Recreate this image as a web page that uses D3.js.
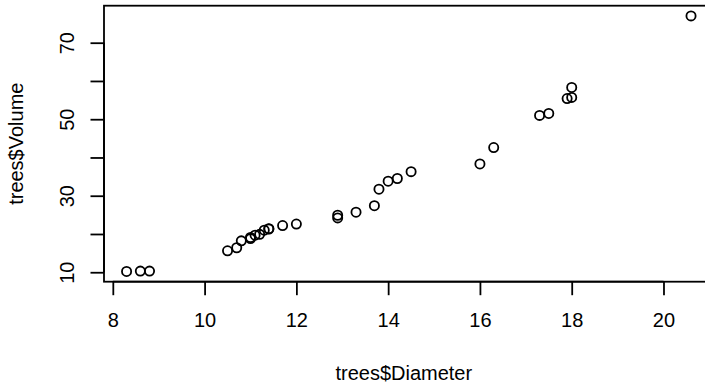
<!DOCTYPE html>
<html>
<head>
<meta charset="utf-8">
<script src="https://cdn.jsdelivr.net/npm/d3@7"></script>
<style>
  html, body { margin: 0; padding: 0; background: #fff; }
  svg { display: block; }
  text { font-family: "Liberation Sans", Arial, Helvetica, sans-serif; fill: #000; }
</style>
</head>
<body>
<svg id="chart" width="705" height="384"></svg>
<script>
// Data (trees: Diameter vs Volume)
const diameter = [8.3, 8.6, 8.8, 10.5, 10.7, 10.8, 11.0, 11.0, 11.1, 11.2, 11.3, 11.4, 11.4, 11.7, 12.0, 12.9, 12.9, 13.3, 13.7, 13.8, 14.0, 14.2, 14.5, 16.0, 16.3, 17.3, 17.5, 17.9, 18.0, 18.0, 20.6];
const volume   = [10.2, 10.3, 10.3, 15.6, 16.4, 18.2, 18.8, 19.1, 19.7, 19.9, 21.0, 21.3, 21.4, 22.2, 22.6, 24.2, 24.9, 25.7, 27.4, 31.7, 33.8, 34.5, 36.3, 38.3, 42.6, 51.0, 51.5, 55.4, 55.7, 58.3, 77.0];
const xTicks = [8, 10, 12, 14, 16, 18, 20];
const yTicks = [10, 20, 30, 40, 50, 60, 70];
const yTickLabels = [10, 30, 50, 70];
const xLabel = "trees$Diameter";
const yLabel = "trees$Volume";

const svg = d3.select("#chart");
const fontSize = 20;

// R-style 4% expansion of the data range
function rDomain(arr) {
  const [lo, hi] = d3.extent(arr);
  const pad = (hi - lo) * 0.04;
  return [lo - pad, hi + pad];
}

const plot = { left: 104, right: 713.6, top: 5.7, bottom: 281.7 };

const x = d3.scaleLinear().domain(rDomain(diameter)).range([plot.left, plot.right]);
const y = d3.scaleLinear().domain(rDomain(volume)).range([plot.bottom, plot.top]);

const tickLen = 13.5;
const lw = 1.8;

// Box
svg.append("rect")
  .attr("x", plot.left).attr("y", plot.top)
  .attr("width", plot.right - plot.left).attr("height", plot.bottom - plot.top)
  .attr("fill", "none").attr("stroke", "#000").attr("stroke-width", lw);

// X axis
const xAxis = d3.axisBottom(x).tickValues(xTicks).tickSize(tickLen).tickPadding(0).tickFormat(d3.format("d"));
const gx = svg.append("g").attr("transform", `translate(0,${plot.bottom})`).call(xAxis);
gx.select(".domain").attr("d", `M${x(xTicks[0])},0H${x(xTicks[xTicks.length-1])}`).attr("stroke-width", lw);
gx.selectAll(".tick line").attr("stroke-width", lw);
gx.selectAll(".tick text")
  .attr("y", 327.5 - plot.bottom).attr("dy", null)
  .style("font-size", fontSize + "px")
  .style("font-family", '"Liberation Sans", Arial, Helvetica, sans-serif')
  .attr("fill", "#000");

// Y axis
const yAxis = d3.axisLeft(y).tickValues(yTicks).tickSize(tickLen).tickPadding(0)
  .tickFormat(d => yTickLabels.includes(d) ? String(d) : "");
const gy = svg.append("g").attr("transform", `translate(${plot.left},0)`).call(yAxis);
gy.select(".domain").attr("d", `M0,${y(yTicks[0])}V${y(yTicks[yTicks.length-1])}`).attr("stroke-width", lw);
gy.selectAll(".tick line").attr("stroke-width", lw);
gy.selectAll(".tick text")
  .attr("x", null).attr("dy", null)
  .attr("text-anchor", "middle")
  .attr("transform", `translate(${74 - plot.left},0) rotate(-90)`)
  .style("font-size", fontSize + "px")
  .style("font-family", '"Liberation Sans", Arial, Helvetica, sans-serif')
  .attr("fill", "#000");

// Axis titles
svg.append("text")
  .attr("x", (plot.left + plot.right) / 2 - 5)
  .attr("y", 379.5)
  .attr("text-anchor", "middle")
  .style("font-size", fontSize + "px")
  .text(xLabel);

svg.append("text")
  .attr("transform", `translate(23,${(plot.top + plot.bottom) / 2}) rotate(-90)`)
  .attr("text-anchor", "middle")
  .style("font-size", fontSize + "px")
  .text(yLabel);

// Points
svg.append("g").selectAll("circle")
  .data(diameter.map((d, i) => ({ d, v: volume[i] })))
  .join("circle")
  .attr("cx", p => x(p.d))
  .attr("cy", p => y(p.v))
  .attr("r", 4.6)
  .attr("fill", "none")
  .attr("stroke", "#000")
  .attr("stroke-width", lw);
</script>
</body>
</html>
